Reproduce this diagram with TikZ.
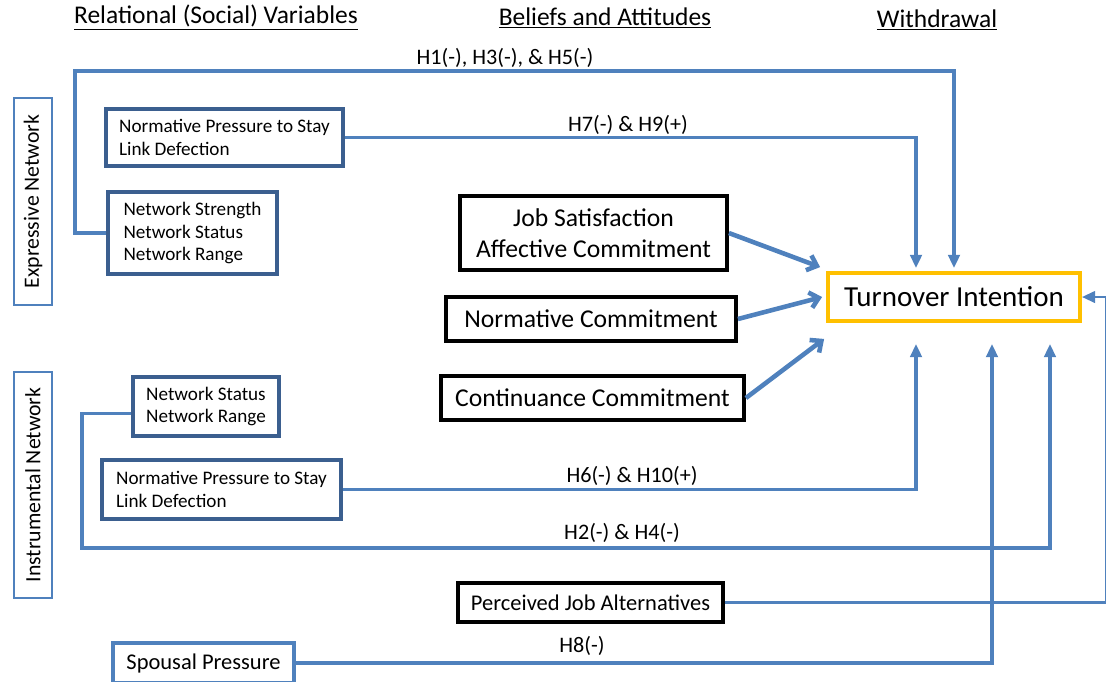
\documentclass[tikz,border=0pt]{standalone}
\usepackage{fontspec}
\setmainfont{Carlito}
\usetikzlibrary{arrows.meta,positioning}
\definecolor{linkblue}{HTML}{4F81BD}
\definecolor{boxblue}{HTML}{3B5F8F}
\definecolor{turnorange}{HTML}{FFC000}
\tikzset{>=Triangle,
  every node/.style={font=\small},
  header/.style={font=\fontsize{14.5}{16}\selectfont},
  sidebox/.style={draw=linkblue,line width=1pt,rotate=90,inner sep=0pt,
    font=\fontsize{12.4}{14}\selectfont},
  relbox/.style={draw=boxblue,line width=2pt,align=left,inner sep=0pt,
    font=\fontsize{10.9}{12.8}\selectfont},
  beliefbox/.style={draw=black,line width=2.2pt,align=center,inner sep=0pt,
    font=\fontsize{14.6}{17.6}\selectfont},
  outcome/.style={draw=turnorange,line width=2.2pt,inner sep=0pt,
    font=\fontsize{16.5}{19}\selectfont},
  link/.style={draw=linkblue,line width=2pt},
  tolink/.style={link,-{Triangle[length=7.5pt,width=6.5pt]}},
  barb/.style={draw=linkblue,line width=2.6pt,-{Straight Barb[length=5pt,width=9pt]}},
  hyp/.style={font=\fontsize{12.6}{14}\selectfont}}

\begin{document}
\begin{tikzpicture}[x=.02cm,y=-.02cm]
\useasboundingbox (0,0) rectangle (1106,681);
% column headers
\node[header] (hrel) at (216,18) {\underline{Relational (Social) Variables}};
\node[header] (hbel) at (605,18) {\underline{Beliefs and Attitudes}};
\node[header] (hwd) at (937,20) {\underline{Withdrawal}};
% network groups
\node[sidebox,minimum width=4.14cm,minimum height=.76cm] (expnet) at (33,201.5) {Expressive Network};
\node[sidebox,minimum width=4.52cm,minimum height=.76cm] (instnet) at (33,485) {Instrumental Network};
% relational variables
\node[relbox,minimum width=4.74cm,minimum height=1.14cm] (expnps) at (224.5,137.5) {Normative Pressure to Stay\\Link Defection};
\node[relbox,minimum width=3.38cm,minimum height=1.64cm] (expstr) at (192.5,233) {Network Strength\\Network Status\\Network Range};
\node[relbox,minimum width=2.92cm,minimum height=1.18cm] (inststat) at (206,406.5) {Network Status\\Network Range};
\node[relbox,minimum width=4.78cm,minimum height=1.18cm] (instnps) at (221.5,489.5) {Normative Pressure to Stay\\Link Defection};
\node[relbox,draw=linkblue,minimum width=3.62cm,minimum height=.8cm,font=\fontsize{12.8}{14}\selectfont] (spouse) at (203.5,663) {Spousal Pressure};
% beliefs and attitudes
\node[beliefbox,minimum width=5.34cm,minimum height=1.48cm] (jsac) at (593.5,233) {Job Satisfaction\\Affective Commitment};
\node[beliefbox,minimum width=5.8cm,minimum height=.88cm] (normc) at (591,319) {Normative Commitment};
\node[beliefbox,minimum width=6.06cm,minimum height=.88cm] (contc) at (592.5,398) {Continuance Commitment};
\node[beliefbox,minimum width=5.3cm,minimum height=.78cm,font=\fontsize{12.8}{14}\selectfont] (pja) at (590.5,602.5) {Perceived Job Alternatives};
% withdrawal
\node[outcome,minimum width=5.04cm,minimum height=.96cm] (turn) at (954,297) {Turnover Intention};
% bus corners
\coordinate (ebus) at (75,71);
\coordinate (ibus) at (82,548);
% connectors
\draw[tolink] (expstr.west) -| (ebus) -| ([yshift=.06cm]turn.north);
\draw[tolink] (expnps.east) -| ([xshift=-.76cm,yshift=.06cm]turn.north);
\draw[tolink] (instnps.east) -| ([xshift=-.76cm,yshift=-.42cm]turn.south);
\draw[tolink] ([yshift=-.14cm]inststat.west) -| (ibus) -| ([xshift=1.92cm,yshift=-.42cm]turn.south);
\draw[tolink,line width=2.6pt] (spouse.east) -| ([xshift=.76cm,yshift=-.42cm]turn.south);
\draw[tolink,line width=1.6pt] (pja.east) -| ([xshift=.48cm]turn.east) -- (turn.east);
\draw[barb] (jsac.east) -- ([xshift=-.12cm,yshift=.08cm]turn.north west);
\draw[barb] (normc.east) -- ([xshift=-.08cm]turn.west);
\draw[barb] (contc.east) -- ([xshift=-.04cm,yshift=-.32cm]turn.south west);
% hypotheses
\node[hyp] (h1) at (505,58) {H1(-), H3(-), \& H5(-)};
\node[hyp] (h7) at (628,125) {H7(-) \& H9(+)};
\node[hyp] (h6) at (632,476) {H6(-) \& H10(+)};
\node[hyp] (h2) at (622,533) {H2(-) \& H4(-)};
\node[hyp] (h8) at (582,646) {H8(-)};
\end{tikzpicture}
\end{document}
